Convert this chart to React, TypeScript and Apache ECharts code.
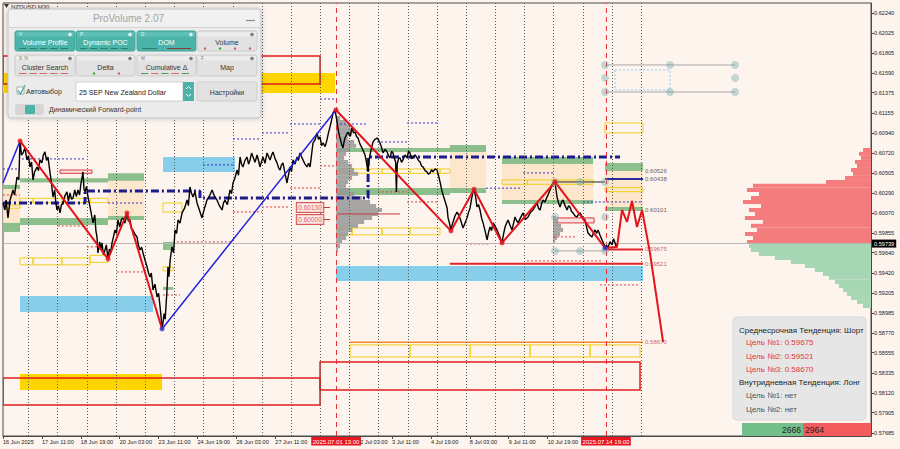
import React, { useEffect, useRef } from "react";
import * as echarts from "echarts";

const FONT = '"Liberation Sans", Arial, sans-serif';
const BG = "#fdf4ee";

// ---- axes ----
const X_MIN = 3; // trading hours since 16 Jun 00:00
const X_MAX = 717;
const Y_MIN = 0.57652;
const Y_MAX = 0.62348;

const yTickValues = [0.6224, 0.62025, 0.61805, 0.6159, 0.61375, 0.61155, 0.6094, 0.6072, 0.60505, 0.6029, 0.6007, 0.59855, 0.5964, 0.5942, 0.59205, 0.58985, 0.5877, 0.58555, 0.58335, 0.5812, 0.57905, 0.57685];
const xTickHours = [3, 35, 67, 99, 131, 163, 195, 227, 259, 291, 323, 355, 387, 419, 451, 483];
// label anchor hours (the 2 Jul label sits just right of the red event box, as in the terminal)
const xLabelHours = [3, 35, 67, 99, 131, 163, 195, 227, 296.8, 323, 355, 387, 419, 451];
const xLabelTexts = ["16 Jun 2025", "17 Jun 11:00", "18 Jun 19:00", "20 Jun 03:00", "23 Jun 11:00", "24 Jun 19:00", "26 Jun 03:00", "27 Jun 11:00", "2 Jul 03:00", "3 Jul 11:00", "4 Jul 19:00", "8 Jul 03:00", "9 Jul 11:00", "10 Jul 19:00"];
const daySeparatorHours = [24, 48, 72, 96, 120, 144, 168, 192, 216, 240, 264, 288, 312, 336, 360, 384, 408, 432, 456, 480, 504, 528];
const eventHours = [277, 499];
const eventTexts = ["2025.07.01 13:00", "2025.07.14 19:00"];
const currentPrice = 0.59739;

// ---- price path [hour, price] ----
const pricePath = [
  [3, 0.60179], [4.6, 0.60103], [5.5, 0.60212], [7.1, 0.60017], [8.8, 0.60212], [11.2, 0.6032], [12.5, 0.60266], [14.5, 0.60461], [16, 0.60429], [17, 0.60852],
  [18.2, 0.607], [19.5, 0.60722], [21, 0.60776], [22.7, 0.60646], [24, 0.6069], [25.2, 0.6057], [26.5, 0.60624], [27.7, 0.60429], [29, 0.60516], [31, 0.6057],
  [32.2, 0.6053], [33.4, 0.60646], [35, 0.60614], [36.2, 0.607], [37.5, 0.60733], [38.8, 0.6064], [40, 0.60678], [41.7, 0.60505], [43, 0.6038], [44.1, 0.60244],
  [45.5, 0.6032], [46.5, 0.6018], [47.4, 0.60103], [48.6, 0.6015], [49.9, 0.60071], [51, 0.60157], [52.4, 0.60179], [54, 0.6026], [55.6, 0.60299], [56.8, 0.602],
  [58.1, 0.60288], [59.4, 0.6022], [60.6, 0.60234], [62, 0.6032], [63.3, 0.6025], [64.7, 0.6032], [66, 0.60266], [67, 0.6038], [68, 0.60451], [68.8, 0.60516],
  [69.6, 0.6033], [70.5, 0.60299], [71.7, 0.6036], [72.9, 0.60244], [74.6, 0.60136], [75.8, 0.6005], [77, 0.59963], [78.5, 0.60049], [79.4, 0.5988], [80.3, 0.59811],
  [81.1, 0.59637], [82.5, 0.59757], [83.5, 0.5968], [84.4, 0.59746], [85.6, 0.5962], [86.9, 0.59669], [88, 0.59724], [89.4, 0.59572], [90.5, 0.5968], [91.6, 0.5964],
  [92.7, 0.59746], [94, 0.5982], [95.1, 0.59887], [96.3, 0.5985], [97.6, 0.59995], [99, 0.59919], [100.4, 0.6], [101.7, 0.60017], [103.3, 0.5996], [105, 0.60071],
  [106.2, 0.5998], [107.5, 0.59995], [108.7, 0.599], [109.9, 0.59887], [111.5, 0.5984], [113.2, 0.59811], [114.4, 0.5972], [115.7, 0.59669], [117, 0.597], [118.2, 0.59637],
  [119.8, 0.5956], [121.5, 0.59486], [122.7, 0.5942], [123.9, 0.59377], [125, 0.5942], [126.4, 0.59236], [128, 0.593], [129.7, 0.59161], [131, 0.592], [132.2, 0.59052],
  [133, 0.5895], [133.8, 0.58813],
  [134.6, 0.58878], [135.5, 0.5898], [136.4, 0.5892], [137.9, 0.59236], [138.7, 0.59486], [139.5, 0.5938], [140.5, 0.5956], [142, 0.59703], [143.3, 0.5964], [144.5, 0.59887],
  [145.8, 0.5985], [147, 0.59995], [148.6, 0.5996], [150.3, 0.60071], [152.3, 0.6012], [154.4, 0.60212], [155.5, 0.6015], [156.8, 0.60353], [158, 0.60288], [159.3, 0.60244],
  [160.9, 0.603], [162.6, 0.60179], [164.6, 0.601], [166.7, 0.60017], [168.7, 0.6012], [170.8, 0.60212], [173, 0.6026], [175, 0.6032], [177, 0.6025], [179, 0.60212],
  [181, 0.6015], [183.2, 0.60103], [184.4, 0.6018], [185.6, 0.60212], [187.6, 0.6016], [189.7, 0.6032], [191, 0.6028], [192.2, 0.60396], [193.8, 0.6045], [195.5, 0.60537],
  [196.7, 0.6048], [198, 0.60678], [199.2, 0.606], [200.4, 0.6057], [202, 0.6064], [203.7, 0.60678], [205, 0.606], [206.2, 0.60646], [207.5, 0.6072], [208.7, 0.60678],
  [210.3, 0.6062], [212, 0.607], [213.2, 0.6064], [214.4, 0.6057], [215.7, 0.6063], [216.9, 0.60678], [218.5, 0.6061], [220.2, 0.60722], [221.5, 0.6068], [222.7, 0.60646],
  [224, 0.607], [225.1, 0.60733], [226.8, 0.6066], [228.4, 0.60614], [229.7, 0.6056], [230.9, 0.60537], [232, 0.6059], [233.3, 0.60614], [235, 0.605], [236.6, 0.60396],
  [237.8, 0.6048], [239.1, 0.6057], [240.3, 0.6052], [241.6, 0.60646], [243.2, 0.606], [244.9, 0.60678], [246, 0.6064], [247.3, 0.60722], [248.5, 0.6068], [249.8, 0.60646],
  [251.4, 0.606], [253.1, 0.6057], [254.3, 0.6061], [255.6, 0.6057], [256.8, 0.607], [258, 0.6083], [259.6, 0.6086], [261.3, 0.60939], [262.5, 0.6087], [263.8, 0.60895],
  [265, 0.608], [266.2, 0.6083], [268, 0.6079], [269.5, 0.60863], [270.7, 0.6094], [272, 0.61004], [273.3, 0.6108], [274.5, 0.61156], [276.1, 0.61188],
  [277, 0.6112], [277.8, 0.61058], [279, 0.6095], [280.2, 0.60884], [281.5, 0.6082], [282.7, 0.60776], [283.5, 0.6084], [284.3, 0.60884], [285.5, 0.6092], [286.8, 0.60949],
  [288.5, 0.609], [290.1, 0.60993], [291.3, 0.6094], [292.6, 0.60949], [293.8, 0.609], [295, 0.60884], [296.6, 0.6082], [298.3, 0.60776], [299.5, 0.6074], [300.8, 0.607],
  [302, 0.6062], [303.3, 0.60516], [304.1, 0.6064], [304.9, 0.607], [306.2, 0.6078], [307.4, 0.60841], [309, 0.6087], [310.7, 0.60884], [312, 0.6086], [313.1, 0.6083],
  [314.4, 0.6078], [315.6, 0.60722], [317.3, 0.6076], [318.9, 0.60733], [320.2, 0.6069], [321.4, 0.60668], [322.6, 0.6074], [323.8, 0.60722], [325, 0.6066], [326, 0.60624],
  [326.6, 0.60299], [327.3, 0.606], [328.4, 0.6066], [329.6, 0.60668], [330.8, 0.6062], [332, 0.60646], [333.7, 0.607], [335.4, 0.60668], [336.6, 0.6074], [337.8, 0.60722],
  [339, 0.6066], [340.3, 0.60678], [342, 0.607], [343.6, 0.60668], [344.8, 0.6064], [346.1, 0.60624], [347.3, 0.6058], [348.5, 0.6057], [350.2, 0.6053], [351.8, 0.60516],
  [353, 0.6049], [354.3, 0.60505], [355.5, 0.6054], [356.7, 0.60516], [358.4, 0.6055], [360, 0.60537], [361.2, 0.6048], [362.5, 0.60407], [363.7, 0.6033], [365, 0.60266],
  [366.6, 0.602], [368.3, 0.60125], [369.1, 0.60017], [370.3, 0.5996], [371.5, 0.59876], [372.4, 0.5994], [373.2, 0.59973], [374.8, 0.6004], [376.5, 0.60081], [377.7, 0.6005],
  [378.9, 0.60017], [380.2, 0.5996], [381.4, 0.59908], [383, 0.5996], [384.7, 0.60017], [386, 0.6008], [387.2, 0.60125], [388.4, 0.6022], [389.6, 0.60299], [390.5, 0.60328],
  [391.7, 0.6025], [392.9, 0.60136], [394.2, 0.6016], [395.4, 0.60103], [396.6, 0.6002], [397.9, 0.59963], [399.5, 0.5988], [401.2, 0.59778], [402.4, 0.5986], [403.6, 0.59919],
  [404.9, 0.5988], [406.1, 0.59963], [407.7, 0.5993], [409.4, 0.59887], [411.5, 0.5982], [413.5, 0.59746], [414.7, 0.5984], [416, 0.59919], [417.2, 0.5996], [418.4, 0.59995],
  [420, 0.5994], [421.7, 0.59887], [423, 0.5996], [424.2, 0.60027], [425.4, 0.5999], [426.7, 0.59963], [428.7, 0.6002], [430.8, 0.60071], [432.8, 0.6], [434.9, 0.60027],
  [437, 0.6008], [439, 0.60103], [440.6, 0.6014], [442.3, 0.60179], [443.5, 0.6012], [444.8, 0.60103], [446, 0.6017], [447.2, 0.60212], [448.8, 0.6019], [450.5, 0.60244],
  [451.7, 0.6028], [453, 0.6032], [454.3, 0.6036], [455.5, 0.60396], [457.1, 0.60407], [458.7, 0.60244], [460, 0.6018], [461.2, 0.60136], [462.5, 0.6019], [463.7, 0.60212],
  [465.3, 0.6015], [467, 0.60103], [468.2, 0.6015], [469.4, 0.60136], [470.6, 0.6009], [471.9, 0.60071], [473.5, 0.6004], [475.2, 0.60027], [476.4, 0.6006], [477.7, 0.60071],
  [479.8, 0.6002], [481.8, 0.59995], [483, 0.5992], [484.2, 0.59854], [485.9, 0.5983], [487.5, 0.59811], [488.8, 0.5986], [490, 0.59887], [491.2, 0.5985], [492.5, 0.59887],
  [494.1, 0.5983], [495.8, 0.59778], [497, 0.5974], [498.2, 0.59703], [499.5, 0.5972], [500.7, 0.59692], [502.3, 0.5976], [504, 0.59724], [505.2, 0.5979], [506.5, 0.59746],
  [507.3, 0.597], [508.1, 0.59739],
];

// ---- zigzags ----
const zigzagRedA = [[17, 0.60852], [89.4, 0.59572], [105, 0.60071], [133.8, 0.58813]];
const zigzagRedB = [[276.9, 0.61188], [371.5, 0.59876], [390.5, 0.60328], [413.5, 0.59746], [457.1, 0.60407], [498.2, 0.59692],
  [508.1, 0.59703], [512.2, 0.60103], [516.3, 0.59973], [520.4, 0.60201], [524.5, 0.59919], [528.7, 0.60103], [535.2, 0.59638], [546, 0.5867]];
const zigzagBlueA = [[3, 0.60396], [17, 0.60852]];
const zigzagBlueB = [[133.8, 0.58813], [276.9, 0.61188]];
const swingRed = [[17, 0.60852], [89.4, 0.59572], [105, 0.60071], [276.9, 0.61188], [371.5, 0.59876], [390.5, 0.60328], [413.5, 0.59746], [457.1, 0.60407]];
const swingBlue = [[133.8, 0.58813], [498.2, 0.59692]];
const pocPath = [[3, 0.60179], [70.5, 0.60179], [70.5, 0.6031], [165, 0.6031], [165, 0.60234], [303.3, 0.60234], [303.3, 0.60678], [510.6, 0.60678]];

// ---- zones [h1, p1, h2, p2] ----
const skyBlueZones = [[134.6, 0.60678, 193.9, 0.60516], [17, 0.59171, 126.4, 0.58998], [276.9, 0.59497, 529.5, 0.59334]];
const greenZones = [
  [3, 0.60375, 17, 0.60331], [3, 0.59963, 17, 0.59865], [17, 0.60447, 89.4, 0.60402], [17, 0.60017, 89.4, 0.59941],
  [89.4, 0.60502, 119, 0.60421], [89.4, 0.60038, 119, 0.59995], [134.6, 0.59757, 142.9, 0.59669], [134.6, 0.59269, 142.9, 0.59236],
  [277.8, 0.60776, 370.7, 0.60733], [370.7, 0.60809, 400.3, 0.60733], [277.8, 0.60342, 370.7, 0.60266], [370.7, 0.60342, 400.3, 0.60288],
  [413.5, 0.60678, 488.4, 0.60602], [413.5, 0.60212, 488.4, 0.60169], [498.2, 0.60614, 529.5, 0.60527], [498.2, 0.60136, 529.5, 0.60093],
];
const beigeZones = [[3, 0.60331, 17, 0.59963], [89.4, 0.60421, 119, 0.60038], [370.7, 0.60733, 400.3, 0.60342], [413.5, 0.60602, 488.4, 0.60212], [498.2, 0.60527, 529.5, 0.60136]];
const yellowBoxes = [
  [17, 0.6023, 27.7, 0.60183], [27.7, 0.6023, 51.5, 0.60183], [51.5, 0.6023, 74.6, 0.60183], [74.6, 0.6023, 89.4, 0.60183],
  [17, 0.59583, 27.7, 0.59508], [27.7, 0.59583, 51.5, 0.59508], [51.5, 0.59583, 74.6, 0.59508], [74.6, 0.59611, 89.4, 0.59535],
  [3, 0.60157, 17, 0.60122], [134.6, 0.60179, 150.3, 0.60081], [134.6, 0.59486, 142.9, 0.59443],
  [280.2, 0.60548, 290.1, 0.60501], [290.1, 0.60548, 314.8, 0.60501], [314.8, 0.60548, 337.8, 0.60501], [337.8, 0.60548, 362.5, 0.60501], [362.5, 0.60548, 370.7, 0.60501],
  [277.8, 0.59908, 290.1, 0.59833], [290.1, 0.59908, 314.8, 0.59833], [314.8, 0.59908, 337.8, 0.59833], [337.8, 0.59908, 362.5, 0.59833],
  [413.5, 0.60429, 434.2, 0.60382], [434.2, 0.60429, 455.5, 0.60382], [455.5, 0.60429, 488.4, 0.60382],
  [498.2, 0.60345, 529.5, 0.60302], [498.2, 0.61047, 529.5, 0.60939],
  [288.5, 0.5864, 337.8, 0.58509], [337.8, 0.5864, 387.2, 0.58509], [387.2, 0.5864, 436.6, 0.58509], [436.6, 0.5864, 485.9, 0.58509], [485.9, 0.5864, 527, 0.58509],
];
const goldZones = [[3, 0.61589, 276.1, 0.61372], [17, 0.58325, 133.8, 0.58152]];
const redBoxes = [[3, 0.61774, 263.8, 0.6147], [3, 0.58282, 263.8, 0.57989], [263.8, 0.58455, 527, 0.58152]];
const pinkBoxes = [[49.9, 0.60537, 76.2, 0.60501], [458.7, 0.60017, 489.2, 0.59963]];
const toolRect = [[506.4, 0.61622, 551.7, 0.61405]];

// ---- segments [h1, h2, price] ----
const navyDottedSegs = [[18.6, 70.5, 0.60657], [3, 17, 0.60548], [89.4, 119, 0.60179], [167.5, 192.2, 0.60592], [192.2, 214.4, 0.60873], [216.1, 239.1, 0.60939],
  [239.1, 263.8, 0.61036], [263.8, 276.1, 0.61307], [280.2, 302.4, 0.61036], [310.7, 335.4, 0.60841], [335.4, 360, 0.61047], [400.3, 430, 0.6034], [430.8, 455.5, 0.60505], [480, 529.5, 0.6019]];
const redDottedSegs = [[3, 17, 0.60266], [48, 74.6, 0.5993], [72, 82, 0.59703], [96.8, 119, 0.59431], [134.6, 148.6, 0.59182], [146, 192.2, 0.59757], [192.2, 216.1, 0.60082],
  [216.1, 239.1, 0.60136], [239.1, 263.8, 0.60342], [263.8, 276.1, 0.60581], [311.5, 335.4, 0.60299], [335.4, 360, 0.6019], [383.9, 403.6, 0.59735], [434, 496, 0.5955], [455.5, 475.2, 0.59811], [494, 527, 0.5929]];
const targetSegs = [[370.7, 529.5, 0.59521], [498.2, 529.5, 0.59675]];
const farTargetSegs = [[288.5, 529.5, 0.5867]];
const thinRedSegs = [[277.8, 329.6, 0.6006], [266.2, 272, 0.6013], [266.2, 272, 0.6]];
const navySolidSegs = [[498.2, 529.5, 0.60438]];
const blackSegs = [[457.1, 498.2, 0.60407]];
const graySegs = [[457.1, 498.2, 0.59659], [498.2, 605.2, 0.61676], [498.2, 605.2, 0.61383]];

const toolPoints = [[498.2, 0.61676], [551.7, 0.61676], [605.2, 0.61676], [498.2, 0.61535], [605.2, 0.61535], [498.2, 0.61383], [551.7, 0.61383], [605.2, 0.61383],
  [457.1, 0.60407], [477.7, 0.60407], [498.2, 0.60407], [457.1, 0.60027], [498.2, 0.60027], [457.1, 0.59659], [477.7, 0.59659], [498.2, 0.59659]];

const labelBoxHour = 255.6;
const labelBoxLevels = [0.6013, 0.6];
const targetLabelHour = 529.5;
const targetLevelsUpper = [0.60526, 0.60438, 0.60101];
const targetLevelsLower = [0.59675, 0.59521, 0.5867];

// ---- volume profiles ----
const PROFILE_HOURS_PER_UNIT = 0.0823;
const PROFILE_STEP = 0.000434;
const leftProfileHour = 277;
const leftProfilePrices = [0.61101, 0.61058, 0.61016, 0.60972, 0.60929, 0.60884, 0.60841, 0.60799, 0.60754, 0.60712, 0.60668, 0.60624, 0.60581, 0.60537, 0.60495, 0.60451, 0.60407,
  0.60365, 0.6032, 0.60277, 0.60234, 0.60191, 0.60147, 0.60103, 0.6006, 0.60017, 0.59973, 0.59931, 0.59887, 0.59843, 0.598, 0.59757, 0.59713, 0.59669];
const leftProfileVolumes = [40, 100, 140, 180, 160, 120, 180, 200, 140, 100, 80, 120, 160, 180, 220, 160, 120, 100, 140, 180, 260, 340, 400, 460, 420, 360, 280, 220, 160, 120, 100, 60, 40, 20];
const smallProfileHour = 455.5;
const smallProfilePrices = [0.60017, 0.59973, 0.59931, 0.59887, 0.59843, 0.598, 0.59757];
const smallProfileVolumes = [30, 50, 80, 100, 70, 40, 20];
const domPrices = [0.60754, 0.60712, 0.60668, 0.60624, 0.60581, 0.60537, 0.60495, 0.60451, 0.60407, 0.60365, 0.6032, 0.60277, 0.60234, 0.60191, 0.60147, 0.60103, 0.6006,
  0.60017, 0.59973, 0.59931, 0.59887, 0.59843, 0.598, 0.59757, 0.59713, 0.59669, 0.59626, 0.59583, 0.5954, 0.59497, 0.59453, 0.5941, 0.59367, 0.59323, 0.5928, 0.59236,
  0.59193, 0.5915, 0.59106, 0.59062];
const domVolumes = [80, 120, 100, 160, 140, 200, 180, 260, 450, 1180, 1240, 1120, 1200, 1280, 1100, 1220, 1160, 1260, 1080, 1200, 1140, 1260, 1180, 1240, 1220, 1200, 1120,
  960, 800, 660, 560, 480, 420, 360, 320, 280, 240, 200, 140, 80];

const buyCount = 2666;
const sellCount = 2964;

function rectSeries(data: number[][], style: any, z: number) {
  return {
    type: "custom", silent: true, z, clip: true, data,
    encode: { x: [0, 2], y: [1, 3] },
    renderItem: (_p: any, api: any) => {
      const a = api.coord([api.value(0), api.value(1)]);
      const b = api.coord([api.value(2), api.value(3)]);
      return {
        type: "rect",
        shape: { x: Math.min(a[0], b[0]), y: Math.min(a[1], b[1]), width: Math.abs(b[0] - a[0]), height: Math.abs(b[1] - a[1]) },
        style: { ...style },
      };
    },
  };
}

function segSeries(data: number[][], style: any, z: number) {
  return {
    type: "custom", silent: true, z, clip: true, data,
    encode: { x: [0, 1], y: 2 },
    renderItem: (_p: any, api: any) => {
      const a = api.coord([api.value(0), api.value(2)]);
      const b = api.coord([api.value(1), api.value(2)]);
      return { type: "line", shape: { x1: a[0], y1: a[1], x2: b[0], y2: b[1] }, style: { fill: null, ...style } };
    },
  };
}

function profileSeries(anchor: number, prices: number[], vols: number[], dir: number, colorFn: (p: number) => string, z: number) {
  return {
    type: "custom", silent: true, z, clip: true,
    data: prices.map((p, i) => [anchor, p, vols[i]]),
    encode: { x: 0, y: 1 },
    renderItem: (_p: any, api: any) => {
      const price = api.value(1);
      const top = api.coord([api.value(0), price + PROFILE_STEP / 2]);
      const bot = api.coord([api.value(0), price - PROFILE_STEP / 2]);
      const w = api.size([api.value(2) * PROFILE_HOURS_PER_UNIT, 0])[0];
      return {
        type: "rect",
        shape: { x: dir > 0 ? top[0] : top[0] - w, y: top[1], width: w, height: bot[1] - top[1] },
        style: { fill: colorFn(price) },
      };
    },
  };
}

function lineSeries(data: number[][], color: string, width: number, z: number, type: any = "solid") {
  return { type: "line", data, symbol: "none", silent: true, z, lineStyle: { color, width, type }, animation: false };
}

function txt(x: number, y: number, text: string, size: number, fill: string, align = "left", weight = "normal") {
  return { type: "text", x, y, z: 100, silent: true, style: { text, fontSize: size, fontFamily: FONT, fill, align, verticalAlign: "middle", fontWeight: weight } };
}

function buildGraphic() {
  const els: any[] = [];
  const teal = "#4cb3a8";
  // top-left symbol caption
  els.push({ type: "polygon", z: 100, shape: { points: [[4, 4], [9, 4], [6.5, 8]] }, style: { fill: "#333" } });
  els.push(txt(11, 6.5, "NZDUSD,M30", 6, "#333"));
  // panel
  els.push({ type: "rect", z: 100, shape: { x: 8, y: 9, width: 253, height: 109, r: 3 }, style: { fill: "#ebebeb", stroke: "#c4c4c4", lineWidth: 1, shadowBlur: 5, shadowColor: "rgba(0,0,0,0.25)" } });
  els.push({ type: "rect", z: 100, shape: { x: 9, y: 10, width: 251, height: 17, r: [3, 3, 0, 0] }, style: { fill: "#f1f1f1" } });
  els.push({ type: "line", z: 100, shape: { x1: 9, y1: 27.5, x2: 260, y2: 27.5 }, style: { stroke: "#d4d4d4", lineWidth: 1 } });
  els.push(txt(128.5, 18.5, "ProVolume 2.07", 10, "#a3a3a3", "center"));
  els.push({ type: "line", z: 100, shape: { x1: 246, y1: 20.5, x2: 255, y2: 20.5 }, style: { stroke: "#8a8a8a", lineWidth: 1.2 } });
  const buttons = [
    { x: 15, y: 31, w: 60, h: 20, label: "Volume Profile", on: true, tag: "V", marks: "dash" },
    { x: 76, y: 31, w: 59, h: 20, label: "Dynamic POC", on: true, tag: "P", marks: "dash" },
    { x: 137, y: 31, w: 59, h: 20, label: "DOM", on: true, tag: "D", marks: "long" },
    { x: 197, y: 31, w: 60, h: 20, label: "Volume", on: false, tag: "", marks: "dots" },
    { x: 15, y: 55, w: 60, h: 21, label: "Cluster Search", on: false, tag: "S  N", marks: "red" },
    { x: 76, y: 55, w: 59, h: 21, label: "Delta", on: false, tag: "", marks: "gr" },
    { x: 137, y: 55, w: 59, h: 21, label: "Cumulative Δ", on: false, tag: "M", marks: "mix" },
    { x: 197, y: 55, w: 60, h: 21, label: "Map", on: false, tag: "F", marks: "" },
  ];
  buttons.forEach((b) => {
    els.push({ type: "rect", z: 100, shape: { x: b.x, y: b.y, width: b.w, height: b.h, r: 2 }, style: { fill: b.on ? teal : "#e2e2e2", stroke: b.on ? "#44a59a" : "#cdcdcd", lineWidth: 1 } });
    els.push({ type: "rect", z: 100, shape: { x: b.x + 1, y: b.y + 1, width: b.w - 2, height: 4.5 }, style: { fill: b.on ? "#5ec0b5" : "#ececec" } });
    if (b.tag) els.push(txt(b.x + 4, b.y + 3.5, b.tag, 4.5, b.on ? "#e8f7f5" : "#777"));
    els.push({ type: "circle", z: 100, shape: { cx: b.x + b.w - 5, cy: b.y + 3.5, r: 1.8 }, style: { fill: b.on ? "#e8f7f5" : "#7a7a7a" } });
    els.push(txt(b.x + b.w / 2, b.y + b.h / 2 + 1.5, b.label, 7, b.on ? "#ffffff" : "#333333", "center"));
    const yy = b.y + b.h - 2.5;
    if (b.marks === "dash" || b.marks === "red" || b.marks === "mix") {
      for (let i = 0; i < 5; i++) {
        const x0 = b.x + 4 + i * ((b.w - 8) / 5);
        const c = b.marks === "dash" ? "#2d7c73" : b.marks === "red" ? "#d76a6a" : i % 2 ? "#d76a6a" : "#4a9a6a";
        els.push({ type: "line", z: 100, shape: { x1: x0, y1: yy, x2: x0 + (b.w - 8) / 5 - 3, y2: yy }, style: { stroke: c, lineWidth: 1 } });
      }
    } else if (b.marks === "long") {
      els.push({ type: "line", z: 100, shape: { x1: b.x + 5, y1: yy, x2: b.x + 20, y2: yy }, style: { stroke: "#2d7c73", lineWidth: 1 } });
      els.push({ type: "line", z: 100, shape: { x1: b.x + 30, y1: yy, x2: b.x + b.w - 5, y2: yy }, style: { stroke: "#8a3b3b", lineWidth: 1 } });
    } else if (b.marks === "dots") {
      ["#d55", "#3a3", "#d55", "#d55"].forEach((c, i) => {
        els.push({ type: "circle", z: 100, shape: { cx: b.x + 8 + i * 15, cy: yy, r: 1.2 }, style: { fill: c } });
      });
    } else if (b.marks === "gr") {
      els.push({ type: "circle", z: 100, shape: { cx: b.x + 18, cy: yy, r: 1.2 }, style: { fill: "#3a3" } });
      els.push({ type: "circle", z: 100, shape: { cx: b.x + 43, cy: yy, r: 1.2 }, style: { fill: "#d55" } });
    }
  });
  // row 3
  els.push({ type: "rect", z: 100, shape: { x: 17, y: 87, width: 7, height: 7 }, style: { fill: "#fff", stroke: "#aaa", lineWidth: 1 } });
  els.push({ type: "polyline", z: 100, shape: { points: [[18, 90.5], [20.5, 94], [25, 85]] }, style: { stroke: teal, lineWidth: 1.4, fill: null } });
  els.push(txt(26, 91, "Автовыбор", 7, "#333"));
  els.push({ type: "rect", z: 100, shape: { x: 76, y: 82, width: 107, height: 19 }, style: { fill: "#ffffff", stroke: "#d0d0d0", lineWidth: 1 } });
  els.push(txt(79, 92, "25 SEP New Zealand Dollar", 7, "#222"));
  els.push({ type: "rect", z: 100, shape: { x: 183, y: 82, width: 11, height: 19 }, style: { fill: teal } });
  els.push({ type: "polyline", z: 100, shape: { points: [[186, 89], [188.5, 86.5], [191, 89]] }, style: { stroke: "#fff", lineWidth: 1, fill: null } });
  els.push({ type: "polyline", z: 100, shape: { points: [[186, 94], [188.5, 96.5], [191, 94]] }, style: { stroke: "#fff", lineWidth: 1, fill: null } });
  els.push({ type: "rect", z: 100, shape: { x: 197, y: 82, width: 60, height: 19, r: 2 }, style: { fill: "#e2e2e2", stroke: "#cdcdcd", lineWidth: 1 } });
  els.push(txt(227, 92, "Настройки", 7, "#333", "center"));
  // row 4
  els.push({ type: "rect", z: 100, shape: { x: 15, y: 104, width: 29, height: 11, r: 3 }, style: { fill: "#d6d6d6" } });
  els.push({ type: "rect", z: 100, shape: { x: 25, y: 105, width: 10, height: 9, r: 1 }, style: { fill: teal } });
  els.push(txt(49, 109.5, "Динамический Forward-point", 7, "#333"));

  // info box
  els.push({ type: "rect", z: 100, shape: { x: 733, y: 317, width: 133, height: 103, r: 4 }, style: { fill: "#e6e6e6", stroke: "#d8d8d8", lineWidth: 1 } });
  const red = "#e5393d";
  els.push(txt(739, 330.5, "Среднесрочная Тенденция: Шорт", 8, "#1e1e1e"));
  els.push(txt(746, 342, "Цель №1: " + targetLevelsLower[0].toFixed(5), 8, red));
  els.push(txt(746, 356.5, "Цель №2: " + targetLevelsLower[1].toFixed(5), 8, red));
  els.push(txt(746, 369, "Цель №3: " + targetLevelsLower[2].toFixed(5), 8, red));
  els.push(txt(739, 382.5, "Внутридневная Тенденция: Лонг", 8, "#1e1e1e"));
  els.push(txt(746, 395.5, "Цель №1: нет", 8, "#555"));
  els.push(txt(746, 409, "Цель №2: нет", 8, "#555"));

  // buy / sell counter
  els.push({ type: "rect", z: 100, shape: { x: 742, y: 423, width: 61, height: 13 }, style: { fill: "#72bf8b" } });
  els.push({ type: "rect", z: 100, shape: { x: 803, y: 423, width: 68, height: 13 }, style: { fill: "#f25c5c" } });
  els.push(txt(801, 430, String(buyCount), 8.5, "#222", "right"));
  els.push(txt(805, 430, String(sellCount), 8.5, "#222", "left"));
  return els;
}

function buildOption() {
  const markLineData: any[] = [
    ...daySeparatorHours.map((h) => ({ xAxis: h, lineStyle: { color: "#5a5a5a", type: [1, 2], width: 1 }, label: { show: false } })),
    ...eventHours.map((h, i) => ({
      xAxis: h,
      lineStyle: { color: "#e8303a", type: [5, 4], width: 1 },
      label: { show: true, position: "start", formatter: eventTexts[i], backgroundColor: "#e8141e", color: "#ffffff", fontSize: 6, fontFamily: FONT, padding: [1.5, 1.5, 1, 1.5], distance: 1 },
    })),
    {
      yAxis: currentPrice,
      lineStyle: { color: "#b8b8b8", type: "solid", width: 1 },
      label: { show: true, position: "end", formatter: currentPrice.toFixed(5), backgroundColor: "#000", color: "#fff", fontSize: 5.6, fontFamily: FONT, padding: [1, 2], distance: 1 },
    },
  ];

  const series: any[] = [
    rectSeries(beigeZones, { fill: "#fce3c6", opacity: 0.85 }, 1),
    rectSeries(skyBlueZones, { fill: "#87ceeb" }, 1),
    rectSeries(greenZones, { fill: "#8dbf8d" }, 1),
    rectSeries(goldZones, { fill: "#ffd500" }, 1),
    rectSeries(yellowBoxes, { fill: "none", stroke: "#f2cf1c", lineWidth: 1 }, 2),
    rectSeries(redBoxes, { fill: "none", stroke: "#e21c1c", lineWidth: 1.5 }, 2),
    rectSeries(pinkBoxes, { fill: "#fbe2e2", stroke: "#d83a3a", lineWidth: 1 }, 2),
    rectSeries(toolRect, { fill: "none", stroke: "#8cc8ee", lineWidth: 1, lineDash: [2, 2] }, 2),
    profileSeries(leftProfileHour, leftProfilePrices, leftProfileVolumes, 1, () => "rgba(150,150,150,0.85)", 2),
    profileSeries(smallProfileHour, smallProfilePrices, smallProfileVolumes, 1, () => "rgba(150,150,150,0.85)", 2),
    profileSeries(X_MAX, domPrices, domVolumes, -1, (p) => (p > currentPrice ? "#f47c7c" : "#a6d6b3"), 2),
    segSeries(navyDottedSegs, { stroke: "#3535c8", lineWidth: 1, lineDash: [2, 2] }, 3),
    segSeries(redDottedSegs, { stroke: "#d84040", lineWidth: 1, lineDash: [2, 2] }, 3),
    segSeries(thinRedSegs, { stroke: "#c73a3a", lineWidth: 1 }, 3),
    segSeries(farTargetSegs, { stroke: "#f28c28", lineWidth: 1.5 }, 3),
    segSeries(targetSegs, { stroke: "#e3262b", lineWidth: 2 }, 3),
    segSeries(navySolidSegs, { stroke: "#2a2a9a", lineWidth: 2 }, 3),
    segSeries(blackSegs, { stroke: "#222", lineWidth: 1 }, 3),
    segSeries(graySegs, { stroke: "#a8a8a8", lineWidth: 1 }, 3),
    lineSeries(pocPath, "#1c1c8c", 3, 4, [8, 3, 2, 3]),
    {
      ...lineSeries(pricePath, "#000000", 1.4, 5),
      markLine: { silent: true, symbol: ["none", "none"], animation: false, precision: 5, data: markLineData },
    },
    lineSeries(zigzagBlueA, "#2020e0", 1.5, 6),
    lineSeries(zigzagBlueB, "#2020e0", 1.5, 6),
    lineSeries(zigzagRedA, "#e3141c", 2, 6),
    lineSeries(zigzagRedB, "#e3141c", 2, 6),
    { type: "scatter", silent: true, z: 7, data: toolPoints, symbolSize: 8, itemStyle: { color: "rgba(110,170,170,0.5)" } },
    { type: "scatter", silent: true, z: 8, data: swingRed, symbolSize: 5, itemStyle: { color: "#e3141c" } },
    { type: "scatter", silent: true, z: 8, data: swingBlue, symbolSize: 5, itemStyle: { color: "#3030d0" } },
    {
      type: "scatter", silent: true, z: 9, symbolSize: 0,
      data: labelBoxLevels.map((p) => [labelBoxHour, p]),
      label: { show: true, position: "inside", formatter: (d: any) => d.value[1].toFixed(5), color: "#d03030", fontSize: 6.5, fontFamily: FONT, backgroundColor: "#fbe8e8", borderColor: "#d03030", borderWidth: 1, padding: [1, 1.5] },
    },
    {
      type: "scatter", silent: true, z: 9, symbolSize: 0,
      data: targetLevelsUpper.map((p) => [targetLabelHour, p]),
      label: { show: true, position: "right", distance: 2, formatter: (d: any) => d.value[1].toFixed(5), color: "#333", fontSize: 6, fontFamily: FONT },
    },
    {
      type: "scatter", silent: true, z: 9, symbolSize: 0,
      data: targetLevelsLower.map((p) => [targetLabelHour, p]),
      label: { show: true, position: "right", distance: 2, formatter: (d: any) => d.value[1].toFixed(5), color: "#c03a3a", fontSize: 6, fontFamily: FONT },
    },
  ];

  return {
    animation: false,
    backgroundColor: BG,
    textStyle: { fontFamily: FONT },
    grid: { left: 3, right: 29, top: 3, bottom: 13, show: true, borderColor: "#4a4a4a", borderWidth: 1, backgroundColor: "transparent" },
    xAxis: {
      type: "value", min: X_MIN, max: X_MAX,
      axisLine: { show: true, lineStyle: { color: "#4a4a4a", width: 1 } },
      axisTick: { show: true, customValues: xTickHours, length: 3, lineStyle: { color: "#4a4a4a" } },
      axisLabel: {
        customValues: xLabelHours, align: "left", fontSize: 5.6, color: "#222", margin: 3, fontFamily: FONT,
        formatter: (v: number) => { const i = xLabelHours.findIndex((h) => Math.abs(h - v) < 0.01); return i >= 0 ? xLabelTexts[i] : ""; },
      },
      splitLine: { show: false },
    },
    yAxis: {
      type: "value", position: "right", min: Y_MIN, max: Y_MAX,
      axisLine: { show: true, lineStyle: { color: "#4a4a4a", width: 1 } },
      axisTick: { show: true, customValues: yTickValues, length: 3, lineStyle: { color: "#4a4a4a" } },
      axisLabel: { customValues: yTickValues, fontSize: 5.6, color: "#222", margin: 3, fontFamily: FONT, formatter: (v: number) => v.toFixed(5) },
      splitLine: { show: false },
    },
    series,
    graphic: { elements: buildGraphic() },
  };
}

export default function App() {
  const ref = useRef<HTMLDivElement>(null);
  useEffect(() => {
    const chart = echarts.init(ref.current as HTMLDivElement, null, { renderer: "svg" });
    chart.setOption(buildOption() as any);
    return () => chart.dispose();
  }, []);
  return <div ref={ref} style={{ position: "absolute", left: 0, top: 0, width: 900, height: 449, background: BG }} />;
}
